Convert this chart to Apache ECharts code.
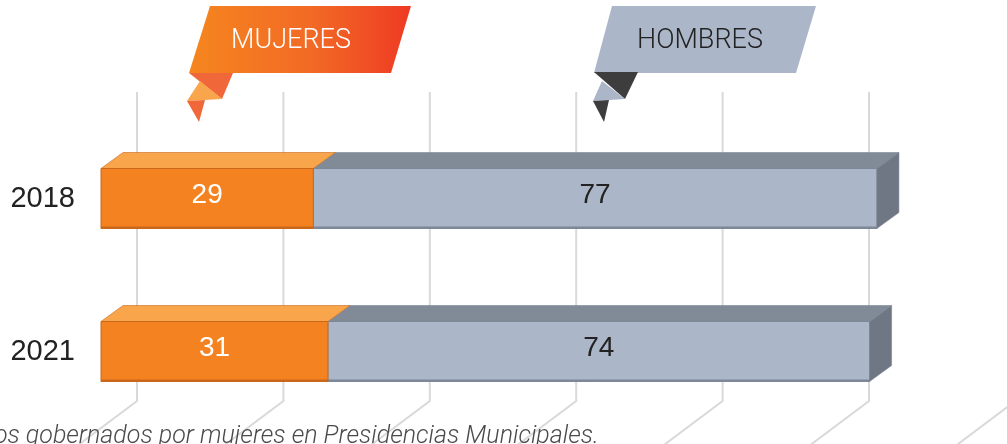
<!DOCTYPE html>
<html>
<head>
<meta charset="utf-8">
<script src="https://cdn.jsdelivr.net/npm/echarts@6/dist/echarts.min.js"></script>
<style>
html,body{margin:0;padding:0;background:#fff;}
#chart{width:1007px;height:444px;}
</style>
</head>
<body>
<div id="chart"></div>
<script>
const categories = ['2018', '2021'];
const mujeres = [29, 31];
const hombres = [77, 74];
const axisTicks = [0, 20, 40, 60, 80, 100, 120];
const legendNames = ['MUJERES', 'HOMBRES'];
const caption = 'Municipios gobernados por mujeres en Presidencias Municipales.';

const DX = 22, DY = -16;       // bar depth
const WX = 36, WY = -27;       // back wall depth

const chart = echarts.init(document.getElementById('chart'), null, {renderer: 'canvas'});

function barRender(colors, withSide, labelColor) {
  return function (params, api) {
    const s = api.coord([api.value(0), api.value(2)]);
    const e = api.coord([api.value(1), api.value(2)]);
    const h = api.size([0, 1])[1] * 0.392;
    const yc = s[1];
    const yt = yc - h / 2, yb = yc + h / 2;
    const x0 = s[0], x1 = e[0];
    const children = [
      {type: 'polygon', shape: {points: [[x0, yt], [x1, yt], [x1 + DX, yt + DY], [x0 + DX, yt + DY]]},
        style: {fill: colors.top, stroke: colors.edge, lineWidth: 0.6}},
      {type: 'rect', shape: {x: x0, y: yt, width: x1 - x0, height: h},
        style: {fill: colors.front, stroke: colors.edge, lineWidth: 1}},
      {type: 'rect', shape: {x: x0, y: yb - 2, width: x1 - x0, height: 2},
        style: {fill: colors.edge}}
    ];
    if (withSide) {
      children.push({type: 'polygon', shape: {points: [[x1, yt], [x1 + DX, yt + DY], [x1 + DX, yb + DY], [x1, yb]]},
        style: {fill: colors.side, stroke: colors.edge, lineWidth: 0.6}});
    }
    children.push({type: 'text', style: {text: String(api.value(3)), x: (x0 + x1) / 2, y: yc - 3,
      align: 'center', verticalAlign: 'middle', fill: labelColor, fontSize: 28, fontFamily: '"Liberation Sans", Arial, sans-serif'}});
    return {type: 'group', children: children};
  };
}

const option = {
  animation: false,
  backgroundColor: '#ffffff',
  grid: {left: 101, right: 27.6, top: 122, bottom: 16, containLabel: false},
  xAxis: {type: 'value', min: 0, max: 120, interval: 20, show: false},
  yAxis: {
    type: 'category', data: categories, inverse: true,
    axisLine: {show: false}, axisTick: {show: false}, splitLine: {show: false},
    axisLabel: {fontSize: 29, color: '#222', margin: 26, fontFamily: '"Liberation Sans", Arial, sans-serif'}
  },
  series: [
    {
      type: 'custom', name: 'grid', z: 1, silent: true, clip: false,
      coordinateSystem: 'cartesian2d',
      data: axisTicks.map(v => [v, 0]),
      encode: {x: 0, y: 1},
      renderItem: function (params, api) {
        const cs = params.coordSys;
        const x = api.coord([api.value(0), 0])[0] + WX;
        const yTop = cs.y + WY - 3;
        const yFloor = cs.y + cs.height + WY;
        return {type: 'polyline', shape: {points: [[x, yTop], [x, yFloor], [x - 80, yFloor + 60]]},
          style: {stroke: '#d9d9d9', lineWidth: 2, fill: null}};
      }
    },
    {
      type: 'custom', name: legendNames[1], z: 3, clip: false,
      coordinateSystem: 'cartesian2d',
      data: categories.map((c, i) => [mujeres[i], mujeres[i] + hombres[i], i, hombres[i]]),
      encode: {x: [0, 1], y: 2},
      renderItem: barRender({front: '#abb6c8', top: '#808b97', side: '#6f7784', edge: '#7d8797'}, true, '#222')
    },
    {
      type: 'custom', name: legendNames[0], z: 4, clip: false,
      coordinateSystem: 'cartesian2d',
      data: categories.map((c, i) => [0, mujeres[i], i, mujeres[i]]),
      encode: {x: [0, 1], y: 2},
      renderItem: barRender({front: '#f48221', top: '#f9a54b', side: '#e07018', edge: '#c9671a'}, false, '#ffffff')
    }
  ],
  graphic: [
    // MUJERES banner
    {type: 'polygon', shape: {points: [[210, 6], [411, 6], [391, 73], [189, 73]]},
      style: {fill: {type: 'linear', x: 0, y: 0, x2: 1, y2: 0, colorStops: [{offset: 0, color: '#f5861f'}, {offset: 0.55, color: '#f26a25'}, {offset: 1, color: '#ee3a24'}]}}},
    {type: 'polygon', shape: {points: [[189, 73], [233, 73], [222, 99]]}, style: {fill: '#f0683a'}},
    {type: 'polygon', shape: {points: [[200, 81], [187, 101], [222, 99]]}, style: {fill: '#f9a54b'}},
    {type: 'polygon', shape: {points: [[187, 101], [205, 100], [199, 122]]}, style: {fill: '#f0683a'}},
    {type: 'text', style: {text: legendNames[0], x: 291, y: 41, align: 'center', verticalAlign: 'middle',
      fill: '#ffffff', fontSize: 27, fontWeight: 300, fontFamily: 'Roboto, sans-serif'}},
    // HOMBRES banner
    {type: 'polygon', shape: {points: [[612, 6], [816, 6], [796, 73], [594, 73]]}, style: {fill: '#abb6c8'}},
    {type: 'polygon', shape: {points: [[594, 72], [638, 72], [625, 99]]}, style: {fill: '#3d3d3d'}},
    {type: 'polygon', shape: {points: [[602, 81], [593, 101], [625, 99]]}, style: {fill: '#abb6c8'}},
    {type: 'polygon', shape: {points: [[593, 101], [609, 100], [604, 122]]}, style: {fill: '#3d3d3d'}},
    {type: 'text', style: {text: legendNames[1], x: 700, y: 41, align: 'center', verticalAlign: 'middle',
      fill: '#222222', fontSize: 27, fontWeight: 300, fontFamily: 'Roboto, sans-serif'}},
    // caption
    {type: 'text', z: 10, style: {text: caption, x: -96, y: 437, align: 'left', verticalAlign: 'middle',
      fill: '#4a4a4a', fontSize: 25, fontStyle: 'italic', fontWeight: 300, fontFamily: 'Roboto, sans-serif'}}
  ]
};
chart.setOption(option);
</script>
</body>
</html>
